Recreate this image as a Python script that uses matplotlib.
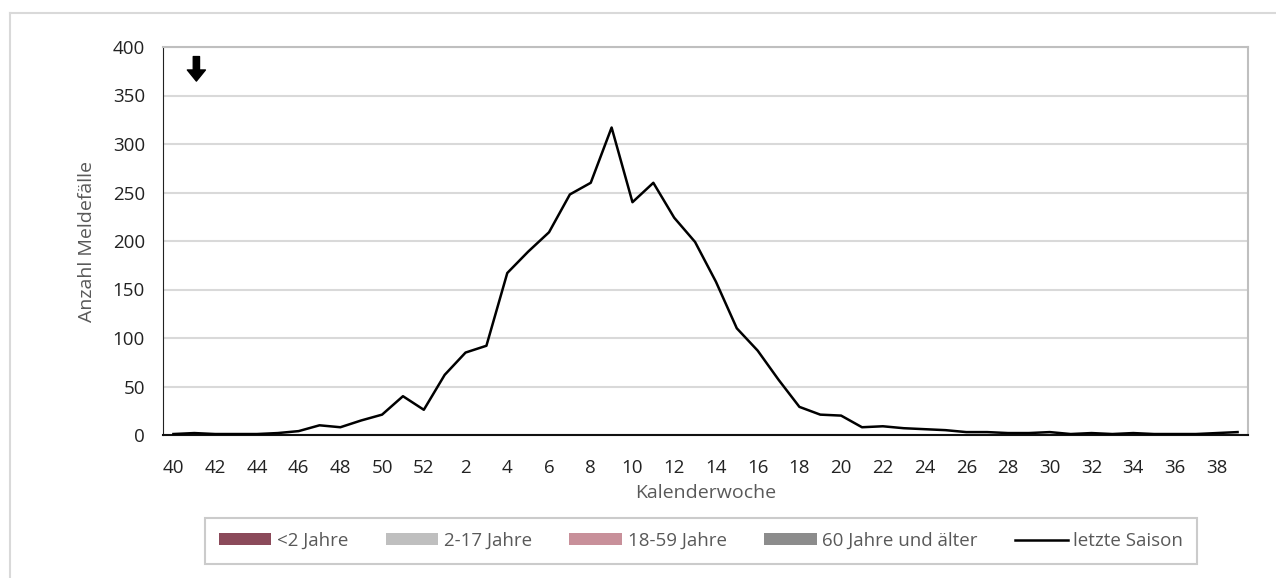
import matplotlib
matplotlib.use("Agg")
import matplotlib.pyplot as plt
from matplotlib.patches import Patch
from matplotlib.lines import Line2D

# Kalenderwochen 40..52, 1..39
weeks = list(range(40, 53)) + list(range(1, 40))
# letzte Saison
last_season = [1, 2, 1, 1, 1, 2, 4, 10, 8, 15, 21, 40, 26,
               62, 85, 92, 167, 189, 209, 248, 260, 317, 240, 260, 224, 199,
               158, 110, 87, 57, 29, 21, 20, 8, 9, 7, 6, 5, 3, 3,
               2, 2, 3, 1, 2, 1, 2, 1, 1, 1, 2, 3]
legend_labels = ['<2 Jahre', '2-17 Jahre', '18-59 Jahre', '60 Jahre und älter', 'letzte Saison']
legend_colors = ['#8B4A5A', '#BFBFBF', '#C8909A', '#8C8C8C']

plt.rcParams['font.family'] = ['Open Sans', 'DejaVu Sans']

fig = plt.figure(figsize=(12.76, 5.78), dpi=100)
ax = fig.add_axes([163 / 1276, 1 - 435 / 578, (1248 - 163) / 1276, (435 - 47) / 578])

x = list(range(len(weeks)))
ax.plot(x, last_season, color='black', linewidth=1.8, zorder=3)

ax.set_xlim(-0.5, len(weeks) - 0.5)
ax.set_ylim(0, 400)
ax.set_yticks(range(0, 401, 50))
ax.set_xticks(x[::2])
ax.set_xticklabels([str(w) for w in weeks[::2]])
ax.tick_params(length=0, labelsize=13.5, labelcolor='#222222')
ax.tick_params(axis='x', pad=17)
ax.tick_params(axis='y', pad=13)
ax.grid(axis='y', color='#D9D9D9', linewidth=1.5)
ax.set_axisbelow(True)

for s in ['top', 'right']:
    ax.spines[s].set_color('#BFBFBF')
    ax.spines[s].set_linewidth(1.5)
ax.spines['left'].set_color('#222222')
ax.spines['bottom'].set_color('#111111')
ax.spines['bottom'].set_linewidth(1.5)

ax.set_xlabel('Kalenderwoche', fontsize=14, color='#595959', labelpad=5)
ax.set_ylabel('Anzahl Meldefälle', fontsize=14, color='#595959', labelpad=12)

# Pfeil oben links
ax.annotate('', xy=(1.1, 362), xytext=(1.1, 393),
            arrowprops=dict(arrowstyle='simple,head_width=1.3,head_length=0.8,tail_width=0.45',
                            color='black'))

handles = [Patch(facecolor=c, edgecolor='none') for c in legend_colors]
handles.append(Line2D([0], [0], color='black', linewidth=1.8))
leg = fig.legend(handles, legend_labels, loc='center', bbox_to_anchor=(701 / 1276, 1 - 541 / 578),
                 ncol=5, frameon=True, fancybox=False, edgecolor='#BFBFBF',
                 prop={'size': 13.5},
                 handlelength=2.8, handleheight=0.6, columnspacing=2.0, handletextpad=0.3,
                 borderpad=0.75, borderaxespad=0, labelcolor='#595959')
leg.get_frame().set_linewidth(1.5)

# äußerer Rahmen
fig.add_artist(Line2D([10 / 1276, 1], [1 - 13 / 578, 1 - 13 / 578], color='#D9D9D9', linewidth=1.5))
fig.add_artist(Line2D([10 / 1276, 10 / 1276], [0, 1 - 13 / 578], color='#D9D9D9', linewidth=1.5))

fig.savefig('out.png', dpi=100)
